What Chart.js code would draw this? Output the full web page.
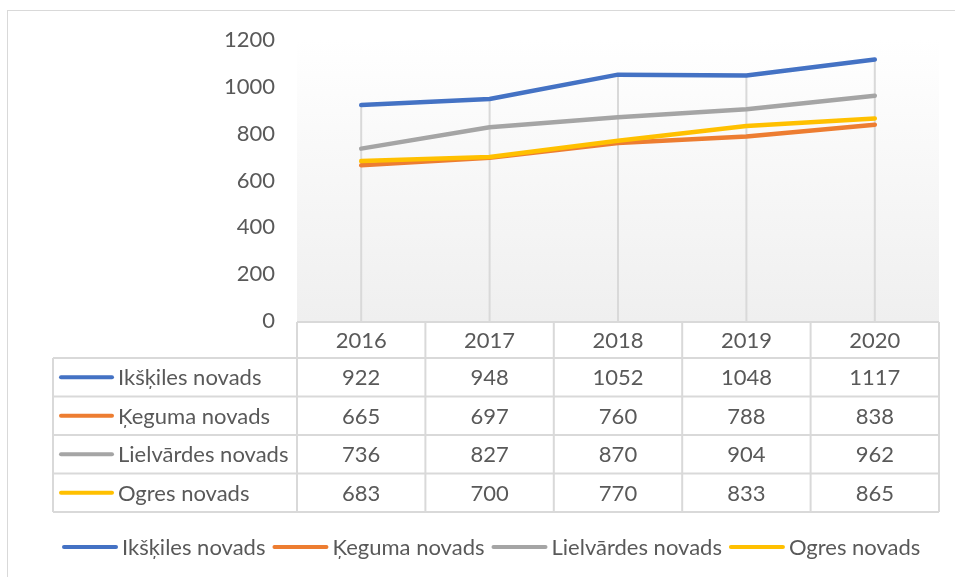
<!DOCTYPE html>
<html>
<head>
<meta charset="utf-8">
<script src="https://cdn.jsdelivr.net/npm/chart.js@4/dist/chart.umd.min.js"></script>
<style>
  html, body { margin: 0; padding: 0; background: #ffffff; }
  #wrap { width: 955px; height: 577px; position: relative; }
</style>
</head>
<body>
<div id="wrap"><canvas id="chart" width="955" height="577"></canvas></div>
<script>
// Years shown on the category axis / table header
const years = ['2016', '2017', '2018', '2019', '2020'];

// Values per municipality
const ikskile = [922, 948, 1052, 1048, 1117];
const kegums = [665, 697, 760, 788, 838];
const lielvarde = [736, 827, 870, 904, 962];
const ogre = [683, 700, 770, 833, 865];

// Series names
const seriesNames = ['Ikšķiles novads', 'Ķeguma novads', 'Lielvārdes novads', 'Ogres novads'];

// Value axis tick settings
const yMin = 0;
const yMax = 1200;
const yStep = 200;

const seriesValues = [ikskile, kegums, lielvarde, ogre];
const seriesColors = ['#4472C4', '#ED7D31', '#A5A5A5', '#FFC000'];

const FONT_SIZE = 22;
const FONT = FONT_SIZE + 'px Lato';
const TEXT = '#595959';
const RULE = '#d9d9d9';

// Draws the frame, the plot background, drop lines, the data table and the legend
const tablePlugin = {
  id: 'dataTable',
  beforeDraw(chart) {
    const { ctx, chartArea: a } = chart;
    ctx.save();
    ctx.fillStyle = '#ffffff';
    ctx.fillRect(0, 0, chart.width, chart.height);
    ctx.strokeStyle = RULE;
    ctx.lineWidth = 1;
    ctx.strokeRect(7.5, 10.5, chart.width + 20, chart.height + 20);
    const g = ctx.createLinearGradient(0, a.top, 0, a.bottom);
    g.addColorStop(0, '#ffffff');
    g.addColorStop(1, '#efefef');
    ctx.fillStyle = g;
    ctx.fillRect(a.left, a.top, a.right - a.left, a.bottom - a.top);
    ctx.restore();
  },
  beforeDatasetsDraw(chart) {
    const { ctx, chartArea: a, scales } = chart;
    ctx.save();
    ctx.strokeStyle = RULE;
    ctx.lineWidth = 2;
    years.forEach((_, i) => {
      const top = Math.max(...chart.data.datasets.map(d => d.data[i]));
      const x = scales.x.getPixelForValue(i);
      ctx.beginPath();
      ctx.moveTo(x, scales.y.getPixelForValue(top));
      ctx.lineTo(x, a.bottom);
      ctx.stroke();
    });
    ctx.restore();
  },
  afterDraw(chart) {
    const { ctx, chartArea: a, scales } = chart;
    const xs = scales.x;
    const half = (a.right - a.left) / years.length / 2;
    const tableLeft = 53;
    const headTop = a.bottom + 1;
    const headH = 36;
    const rowH = 38.5;
    const bodyTop = headTop + headH;
    const bodyBottom = bodyTop + rowH * seriesNames.length;

    ctx.save();
    ctx.strokeStyle = RULE;
    ctx.lineWidth = 2;
    // horizontal rules
    ctx.beginPath();
    ctx.moveTo(a.left, headTop); ctx.lineTo(a.right, headTop);
    for (let r = 0; r <= seriesNames.length; r++) {
      const y = bodyTop + r * rowH;
      ctx.moveTo(tableLeft, y); ctx.lineTo(a.right, y);
    }
    // vertical rules
    ctx.moveTo(tableLeft, bodyTop); ctx.lineTo(tableLeft, bodyBottom);
    for (let i = 0; i <= years.length; i++) {
      const x = i < years.length ? xs.getPixelForValue(i) - half : xs.getPixelForValue(years.length - 1) + half;
      ctx.moveTo(x, headTop); ctx.lineTo(x, bodyBottom);
    }
    ctx.stroke();

    ctx.font = FONT;
    ctx.fillStyle = TEXT;
    ctx.textBaseline = 'middle';
    ctx.textAlign = 'center';
    years.forEach((yr, i) => {
      ctx.fillText(yr, xs.getPixelForValue(i), headTop + headH / 2 + 1);
    });
    chart.data.datasets.forEach((ds, r) => {
      const cy = bodyTop + r * rowH + rowH / 2 + 1;
      ds.data.forEach((v, i) => {
        ctx.textAlign = 'center';
        ctx.fillStyle = TEXT;
        ctx.fillText(String(v), xs.getPixelForValue(i), cy);
      });
      // row key
      ctx.strokeStyle = ds.borderColor;
      ctx.lineWidth = 4;
      ctx.lineCap = 'round';
      ctx.beginPath();
      ctx.moveTo(61, cy - 1); ctx.lineTo(112, cy - 1);
      ctx.stroke();
      ctx.textAlign = 'left';
      ctx.fillStyle = TEXT;
      ctx.fillText(ds.label, 118, cy);
    });

    // legend below the table
    let x = 63;
    const ly = 548;
    chart.data.datasets.forEach(ds => {
      ctx.strokeStyle = ds.borderColor;
      ctx.lineWidth = 4;
      ctx.lineCap = 'round';
      ctx.beginPath();
      ctx.moveTo(x + 1, ly - 1); ctx.lineTo(x + 53, ly - 1);
      ctx.stroke();
      ctx.textAlign = 'left';
      ctx.fillStyle = TEXT;
      ctx.fillText(ds.label, x + 59, ly);
      x += 59 + ctx.measureText(ds.label).width + 8;
    });
    ctx.restore();
  }
};

new Chart(document.getElementById('chart'), {
  type: 'line',
  data: {
    labels: years,
    datasets: seriesNames.map((name, k) => ({
      label: name,
      data: seriesValues[k],
      borderColor: seriesColors[k],
      backgroundColor: seriesColors[k],
      borderWidth: 4.5,
      borderCapStyle: 'round',
      borderJoinStyle: 'round',
      pointRadius: 0,
      tension: 0,
      order: seriesNames.length - k
    }))
  },
  options: {
    responsive: false,
    animation: false,
    layout: { padding: { left: 8, top: 40, right: 16, bottom: 256 } },
    plugins: { legend: { display: false }, tooltip: { enabled: false } },
    scales: {
      x: { display: false, offset: true },
      y: {
        min: yMin, max: yMax,
        grid: { display: false, drawTicks: false },
        border: { display: false },
        ticks: {
          stepSize: yStep, padding: 22, color: TEXT,
          font: { family: 'Lato', size: FONT_SIZE },
          callback: v => String(v)
        },
        afterFit(scale) { scale.width = 289; }
      }
    }
  },
  plugins: [tablePlugin]
});
</script>
</body>
</html>
